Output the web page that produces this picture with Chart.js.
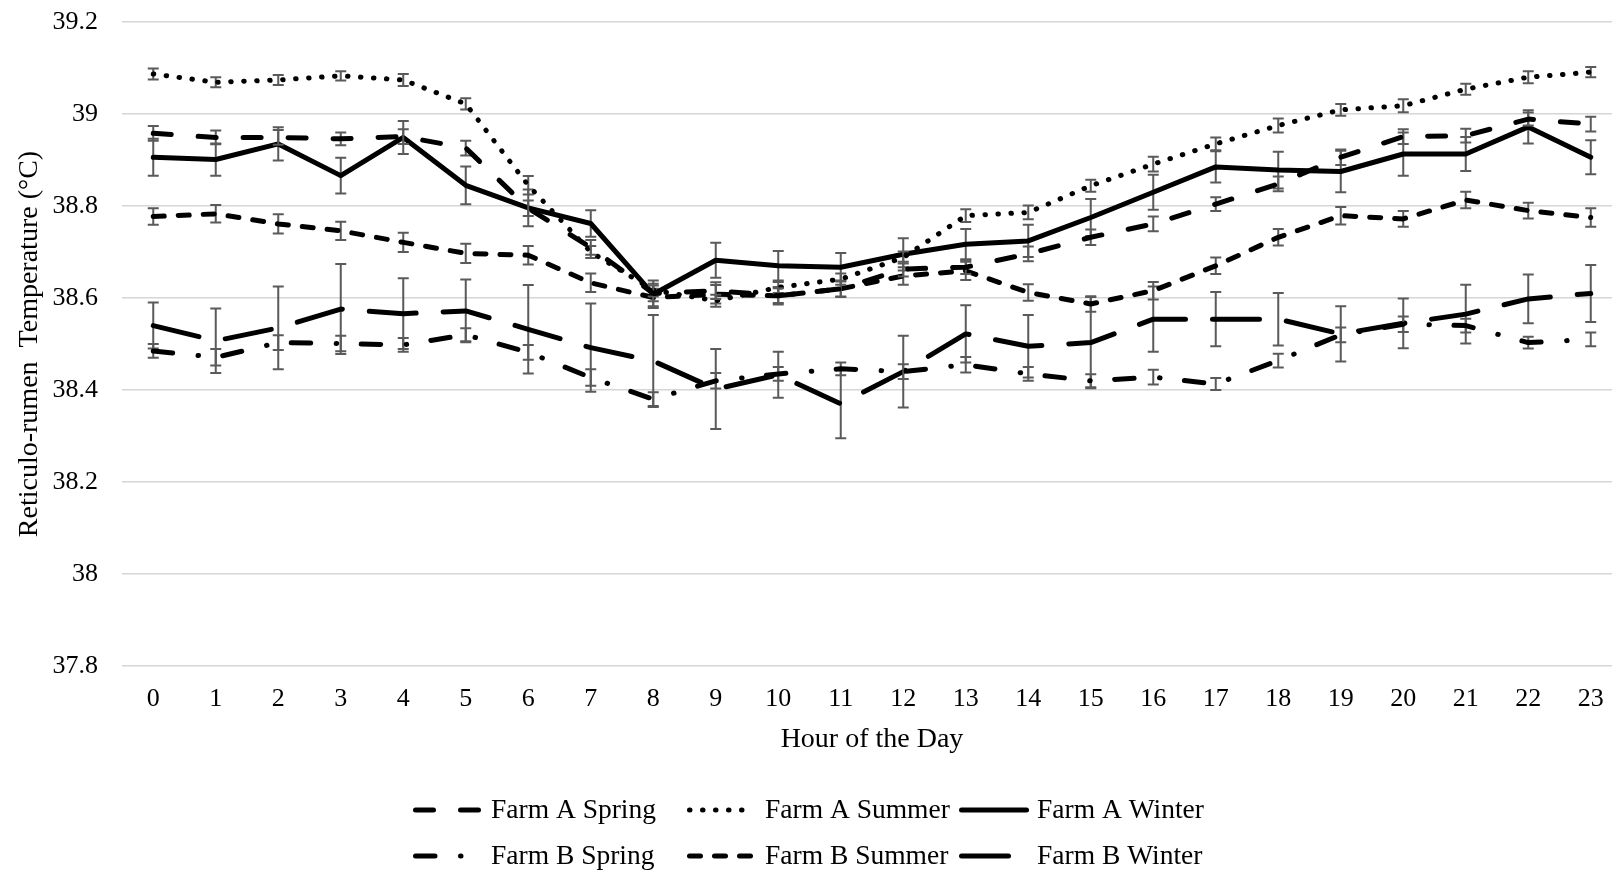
<!DOCTYPE html>
<html>
<head>
<meta charset="utf-8">
<title>Reticulo-rumen Temperature by Hour</title>
<script src="https://cdn.jsdelivr.net/npm/chart.js@4"></script>
<style>
  html, body { margin: 0; padding: 0; background: #fff; overflow: hidden; }
  #wrap { width: 1612px; height: 875px; overflow: hidden; }
  canvas { display: block; }
</style>
</head>
<body>
<div id="wrap"><canvas id="chart" width="1622" height="875"></canvas></div>
<script>
// Hours of the day (category axis)
const hours = ['0','1','2','3','4','5','6','7','8','9','10','11','12','13','14','15','16','17','18','19','20','21','22','23'];

// Y axis tick values
const yTicks = [37.8, 38.0, 38.2, 38.4, 38.6, 38.8, 39.0, 39.2];

// Mean reticulo-rumen temperature (°C) per hour
const farmASpring = [38.958, 38.949, 38.949, 38.946, 38.951, 38.926, 38.795, 38.710, 38.610, 38.616, 38.605, 38.620, 38.663, 38.667, 38.696, 38.732, 38.761, 38.804, 38.848, 38.906, 38.951, 38.953, 38.989, 38.978];
const farmASummer = [39.087, 39.069, 39.074, 39.083, 39.074, 39.022, 38.845, 38.700, 38.617, 38.594, 38.623, 38.641, 38.688, 38.779, 38.786, 38.844, 38.891, 38.935, 38.975, 39.009, 39.018, 39.054, 39.080, 39.091];
const farmAWinter = [38.906, 38.901, 38.935, 38.866, 38.949, 38.845, 38.796, 38.762, 38.608, 38.682, 38.670, 38.667, 38.695, 38.717, 38.724, 38.775, 38.830, 38.885, 38.878, 38.875, 38.913, 38.913, 38.972, 38.906];
const farmBSpring = [38.485, 38.471, 38.503, 38.501, 38.498, 38.520, 38.482, 38.427, 38.380, 38.420, 38.435, 38.446, 38.440, 38.455, 38.435, 38.420, 38.428, 38.413, 38.464, 38.520, 38.543, 38.540, 38.503, 38.510];
const farmBSummer = [38.777, 38.783, 38.761, 38.746, 38.721, 38.697, 38.693, 38.633, 38.601, 38.608, 38.605, 38.620, 38.648, 38.659, 38.612, 38.587, 38.616, 38.670, 38.732, 38.779, 38.772, 38.813, 38.790, 38.775];
const farmBWinter = [38.540, 38.507, 38.535, 38.576, 38.566, 38.572, 38.532, 38.492, 38.463, 38.402, 38.433, 38.370, 38.440, 38.522, 38.495, 38.503, 38.554, 38.554, 38.554, 38.522, 38.545, 38.565, 38.598, 38.610];

// Standard errors (°C) per hour
const errASpring = [0.016, 0.015, 0.016, 0.014, 0.016, 0.016, 0.017, 0.016, 0.017, 0.018, 0.016, 0.017, 0.016, 0.015, 0.016, 0.017, 0.016, 0.015, 0.016, 0.017, 0.016, 0.015, 0.014, 0.016];
const errASummer = [0.012, 0.011, 0.011, 0.010, 0.013, 0.012, 0.020, 0.013, 0.014, 0.013, 0.012, 0.012, 0.013, 0.014, 0.015, 0.013, 0.016, 0.014, 0.015, 0.013, 0.014, 0.012, 0.013, 0.011];
const errAWinter = [0.040, 0.035, 0.036, 0.039, 0.036, 0.041, 0.040, 0.029, 0.030, 0.038, 0.032, 0.031, 0.035, 0.033, 0.035, 0.040, 0.038, 0.034, 0.040, 0.045, 0.047, 0.037, 0.036, 0.037];
const errBSpring = [0.015, 0.018, 0.016, 0.017, 0.015, 0.014, 0.016, 0.018, 0.015, 0.017, 0.015, 0.014, 0.016, 0.017, 0.015, 0.014, 0.016, 0.013, 0.015, 0.016, 0.017, 0.015, 0.013, 0.015];
const errBSummer = [0.018, 0.019, 0.021, 0.020, 0.021, 0.021, 0.020, 0.020, 0.019, 0.020, 0.019, 0.018, 0.019, 0.020, 0.018, 0.017, 0.019, 0.018, 0.018, 0.019, 0.017, 0.018, 0.017, 0.020];
const errBWinter = [0.050, 0.070, 0.090, 0.098, 0.077, 0.068, 0.096, 0.096, 0.100, 0.087, 0.050, 0.075, 0.078, 0.062, 0.068, 0.099, 0.071, 0.059, 0.057, 0.060, 0.054, 0.064, 0.053, 0.062];

const seriesLabels = ['Farm A Spring', 'Farm A Summer', 'Farm A Winter', 'Farm B Spring', 'Farm B Summer', 'Farm B Winter'];

const SERIF = "'Liberation Serif', 'Times New Roman', serif";
const LINE_W = 5;

function series(label, data, errors, dash) {
  return {
    label: label,
    data: data,
    errors: errors,
    borderColor: '#000',
    backgroundColor: '#000',
    borderWidth: LINE_W,
    borderDash: dash,
    borderCapStyle: 'round',
    borderJoinStyle: 'round',
    pointRadius: 0,
    pointHoverRadius: 0,
    tension: 0,
    fill: false
  };
}

// Vertical error bars, drawn beneath each series' own line
const errorBars = {
  id: 'errorBars',
  beforeDatasetDraw(chart, args) {
    const ds = chart.data.datasets[args.index];
    if (!ds.errors) return;
    const x = chart.scales.x, y = chart.scales.y;
    const ctx = chart.ctx;
    ctx.save();
    ctx.strokeStyle = '#5a5a5a';
    ctx.lineWidth = 2;
    ctx.setLineDash([]);
    ctx.lineCap = 'butt';
    const cap = 5.5;
    ds.data.forEach((v, i) => {
      const e = ds.errors[i];
      const px = x.getPixelForValue(i);
      const top = y.getPixelForValue(v + e);
      const bot = y.getPixelForValue(v - e);
      ctx.beginPath();
      ctx.moveTo(px, top); ctx.lineTo(px, bot);
      ctx.moveTo(px - cap, top); ctx.lineTo(px + cap, top);
      ctx.moveTo(px - cap, bot); ctx.lineTo(px + cap, bot);
      ctx.stroke();
    });
    ctx.restore();
  }
};

// Two-row legend below the axis title
const legendGrid = {
  id: 'legendGrid',
  afterDraw(chart) {
    const ctx = chart.ctx;
    const colX = [413, 687, 959];
    const rowBase = [818, 864];
    const sampleW = 70, textGap = 8, lift = 8;
    ctx.save();
    chart.data.datasets.forEach((ds, i) => {
      const cx = colX[i % 3];
      const base = rowBase[Math.floor(i / 3)];
      const ly = base - lift;
      const half = ds.borderWidth / 2;
      ctx.beginPath();
      ctx.strokeStyle = ds.borderColor;
      ctx.lineWidth = ds.borderWidth;
      ctx.lineCap = ds.borderCapStyle;
      ctx.setLineDash(ds.borderDash || []);
      ctx.lineDashOffset = 0;
      ctx.moveTo(cx + half, ly);
      ctx.lineTo(cx + sampleW - half, ly);
      ctx.stroke();
      ctx.setLineDash([]);
      ctx.fillStyle = '#000';
      ctx.font = '27.5px ' + SERIF;
      ctx.textAlign = 'left';
      ctx.textBaseline = 'alphabetic';
      ctx.fillText(ds.label, cx + sampleW + textGap, base);
    });
    ctx.restore();
  }
};

new Chart(document.getElementById('chart'), {
  type: 'line',
  data: {
    labels: hours,
    datasets: [
      series(seriesLabels[0], farmASpring, errASpring, [18, 27]),
      series(seriesLabels[1], farmASummer, errASummer, [0.5, 12.5]),
      series(seriesLabels[2], farmAWinter, errAWinter, []),
      series(seriesLabels[3], farmBSpring, errBSpring, [19.5, 25.5, 0.5, 24.5]),
      series(seriesLabels[4], farmBSummer, errBSummer, [11, 14]),
      series(seriesLabels[5], farmBWinter, errBWinter, [47, 27])
    ]
  },
  options: {
    responsive: false,
    animation: false,
    devicePixelRatio: 1,
    layout: { padding: { top: 22, left: 0, right: 0, bottom: 0 } },
    plugins: {
      legend: { display: false },
      tooltip: { enabled: false },
      title: { display: false }
    },
    scales: {
      x: {
        type: 'category',
        offset: true,
        grid: { display: false, drawTicks: false },
        border: { display: false },
        ticks: {
          color: '#000',
          font: { family: SERIF, size: 26 },
          padding: 18,
          maxRotation: 0,
          autoSkip: false
        },
        title: {
          display: true,
          text: 'Hour of the Day',
          color: '#000',
          font: { family: SERIF, size: 28 },
          padding: { top: 0, bottom: 119 }
        },
        afterFit(scale) { scale.height = 209; }
      },
      y: {
        min: yTicks[0],
        max: yTicks[yTicks.length - 1],
        grid: { color: '#d6d6d6', lineWidth: 1.5, drawTicks: false },
        border: { display: false },
        afterBuildTicks(scale) { scale.ticks = yTicks.map(v => ({ value: v })); },
        ticks: {
          color: '#000',
          font: { family: SERIF, size: 26 },
          padding: 24,
          callback: v => String(Number(v.toFixed(1)))
        },
        title: {
          display: true,
          text: 'Reticulo-rumen  Temperature (°C)',
          color: '#000',
          font: { family: SERIF, size: 28 },
          padding: { top: 12.5, bottom: 0 }
        },
        afterFit(scale) {
          scale.width = 122;
          scale.paddingTop = 0;
          scale.paddingBottom = 0;
        }
      }
    }
  },
  plugins: [errorBars, legendGrid]
});
</script>
</body>
</html>
